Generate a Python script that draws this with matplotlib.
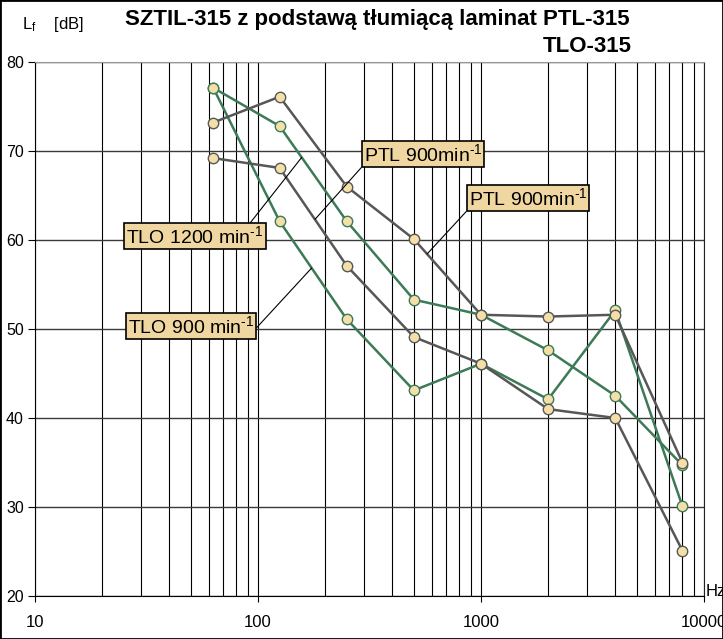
import matplotlib
matplotlib.use('Agg')
import numpy as np
import matplotlib.pyplot as plt
from matplotlib.patches import Rectangle

plt.rcParams['font.family'] = ['Liberation Sans', 'DejaVu Sans']
plt.rcParams['mathtext.fontset'] = 'custom'
plt.rcParams['mathtext.rm'] = 'Liberation Sans'
plt.rcParams['mathtext.it'] = 'Liberation Sans'

# octave band centre frequencies [Hz]
freqs = [63, 125, 250, 500, 1000, 2000, 4000, 8000]

# PTL 900 min-1 (grey lines)
ptl_upper = [73.2, 76.1, 66.0, 60.1, 51.6, 51.4, 51.6, 35.0]
ptl_lower = [69.2, 68.1, 57.1, 49.1, 46.1, 41.0, 40.0, 25.1]
# TLO (green lines)
tlo_1200 = [77.1, 72.8, 62.1, 53.3, 51.6, 47.6, 42.5, 34.7]
tlo_900 = [77.1, 62.1, 51.1, 43.1, 46.1, 42.1, 52.1, 30.1]

x_ticks = [10, 100, 1000, 10000]
x_tick_labels = ['10', '100', '1000', '10000']
y_ticks = [20, 30, 40, 50, 60, 70, 80]

GREY = '#575757'
GREEN = '#3c7a58'
MARKER_FACE = '#f4dfa9'
BOX_FACE = '#f0d7a2'

W, H = 723, 639
fig = plt.figure(figsize=(W / 100, H / 100), dpi=100)
ax = fig.add_axes([35 / W, 1 - 596 / H, (704 - 35) / W, (596 - 62) / H])

def draw_series(vals, color, z):
    ax.plot(freqs, vals, color=color, lw=1.8, marker='o', markersize=7.5,
            markerfacecolor=MARKER_FACE, markeredgecolor=color,
            markeredgewidth=1.0, zorder=z)

draw_series(tlo_1200, GREEN, 3)
draw_series(tlo_900, GREEN, 3)
draw_series(ptl_lower, GREY, 4)
draw_series(ptl_upper, GREY, 4)

ax.set_xscale('log')
ax.set_xlim(10, 10000)
ax.set_ylim(20, 80)
ax.set_xticks(x_ticks)
ax.set_xticklabels(x_tick_labels)
ax.set_yticks(y_ticks)
ax.tick_params(axis='x', which='major', length=4, pad=10, labelsize=12)
ax.tick_params(axis='x', which='minor', length=0, labelbottom=False)
ax.tick_params(axis='y', length=5, pad=3, labelsize=11.5)

ax.grid(True, which='both', axis='x', color='black', lw=0.8, zorder=1)
ax.grid(True, which='major', axis='y', color='#3a3a3a', lw=1.0, zorder=1)
ax.set_axisbelow(True)
ax.spines['top'].set_color('#9a9a9a')
ax.spines['right'].set_color('#222222')
ax.spines['right'].set_linewidth(0.8)

# labels with leader lines
def interp(vals, f):
    return np.interp(np.log10(f), np.log10(freqs), vals)

labels = [
    ('PTL 900min$^{\\text{-1}}$', ptl_lower, 180, (423, 154), (0, 0)),
    ('PTL 900min$^{\\text{-1}}$', ptl_upper, 573, (528, 198), (0, 0)),
    ('TLO 1200 min$^{\\text{-1}}$', tlo_1200, 157, (195, 236), (0.89, 1)),
    ('TLO 900 min$^{\\text{-1}}$', tlo_900, 174, (191, 326), (1, 0.3)),
]
for txt, vals, f, (cx, cy), rel in labels:
    ax.annotate(txt, xy=(f, interp(vals, f)), xycoords='data',
                xytext=(cx, H - cy), textcoords='figure pixels',
                ha='center', va='center', fontsize=14, zorder=6,
                bbox=dict(boxstyle='square,pad=0.1', fc=BOX_FACE, ec='black', lw=1.2),
                arrowprops=dict(arrowstyle='-', color='black', lw=0.8,
                                relpos=rel, shrinkA=0, shrinkB=0))

fig.text(377 / W, 1 - 20 / H, 'SZTIL-315 z podstawą tłumiącą laminat PTL-315',
         ha='center', va='center', fontsize=16, fontweight='bold')
fig.text(632 / W, 1 - 47 / H, 'TLO-315', ha='right', va='center',
         fontsize=16, fontweight='bold')
fig.text(22 / W, 1 - 24 / H, 'L$_\\mathrm{f}$    [dB]', ha='left', va='center', fontsize=12)
fig.text(706 / W, 1 - 591 / H, 'Hz', ha='left', va='center', fontsize=12)

fig.patches.append(Rectangle((0, 0), 1, 1, transform=fig.transFigure,
                             fill=False, ec='black', lw=2))

fig.savefig('out.png', dpi=100)
